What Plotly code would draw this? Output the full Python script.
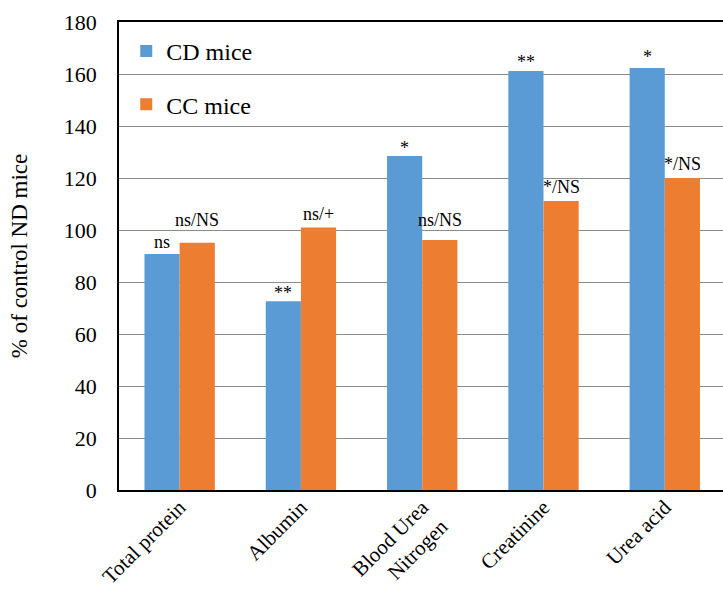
import plotly.graph_objects as go

categories = ["Total protein", "Albumin", "Blood Urea<br>Nitrogen", "Creatinine", "Urea acid"]
cd_values = [90.8, 72.6, 128.5, 161.2, 162.3]
cc_values = [95.1, 101.0, 96.2, 111.2, 120.0]
cd_labels = ["ns", "**", "*", "**", "*"]
cc_labels = ["ns/NS", "ns/+", "ns/NS", "*/NS", "*/NS"]
y_ticks = [0, 20, 40, 60, 80, 100, 120, 140, 160, 180]

# vertical pixel offsets of the significance marks above each bar
cd_shift = [12, 8, 8, 9, 11]
cc_shift = [23, 13, 20, 14, 14]

BLUE = "#5B9BD5"
ORANGE = "#ED7D31"
FONT = "Liberation Serif"

fig = go.Figure()
fig.add_trace(go.Bar(x=categories, y=cd_values, name="CD mice", marker_color=BLUE,
                     marker_line_width=0, legendgroup="cd"))
fig.add_trace(go.Bar(x=categories, y=cc_values, name="CC mice", marker_color=ORANGE,
                     marker_line_width=0, legendgroup="cc"))

annotations = []
for i, cat in enumerate(categories):
    annotations.append(dict(x=cat, y=cd_values[i], text=cd_labels[i], xshift=-17.5,
                            yshift=cd_shift[i], yanchor="middle", showarrow=False,
                            font=dict(family=FONT, size=18, color="black")))
    annotations.append(dict(x=cat, y=cc_values[i], text=cc_labels[i], xshift=17.5,
                            yshift=cc_shift[i], yanchor="middle", showarrow=False,
                            font=dict(family=FONT, size=18, color="black")))

fig.update_layout(
    width=723, height=589,
    margin=dict(l=119, r=0, t=22, b=99),
    paper_bgcolor="white", plot_bgcolor="white",
    barmode="group", bargap=0.42, bargroupgap=0,
    font=dict(family=FONT, size=22, color="black"),
    annotations=annotations,
    legend=dict(x=0.012, y=0.985, xanchor="left", yanchor="top",
                bgcolor="rgba(0,0,0,0)", tracegroupgap=19, itemwidth=30,
                font=dict(family=FONT, size=24, color="black"),
                traceorder="grouped"),
    xaxis=dict(range=[-0.5, 4.48], tickangle=-45, showline=True, linecolor="black",
               linewidth=1.5, mirror=True, ticks="", showgrid=False, automargin=False,
               ticklabelstandoff=-5,
               tickfont=dict(family=FONT, size=21, color="black")),
    yaxis=dict(range=[0, 180], tickvals=y_ticks, showline=True, linecolor="black",
               linewidth=1.5, showgrid=True, gridcolor="#8c8c8c", gridwidth=1,
               zeroline=False, ticks="", ticklabelstandoff=16, automargin=False,
               tickfont=dict(family=FONT, size=22, color="black"),
               title=dict(text="% of control ND mice", standoff=30,
                          font=dict(family=FONT, size=23, color="black"))),
)

fig.write_html("out.html")
